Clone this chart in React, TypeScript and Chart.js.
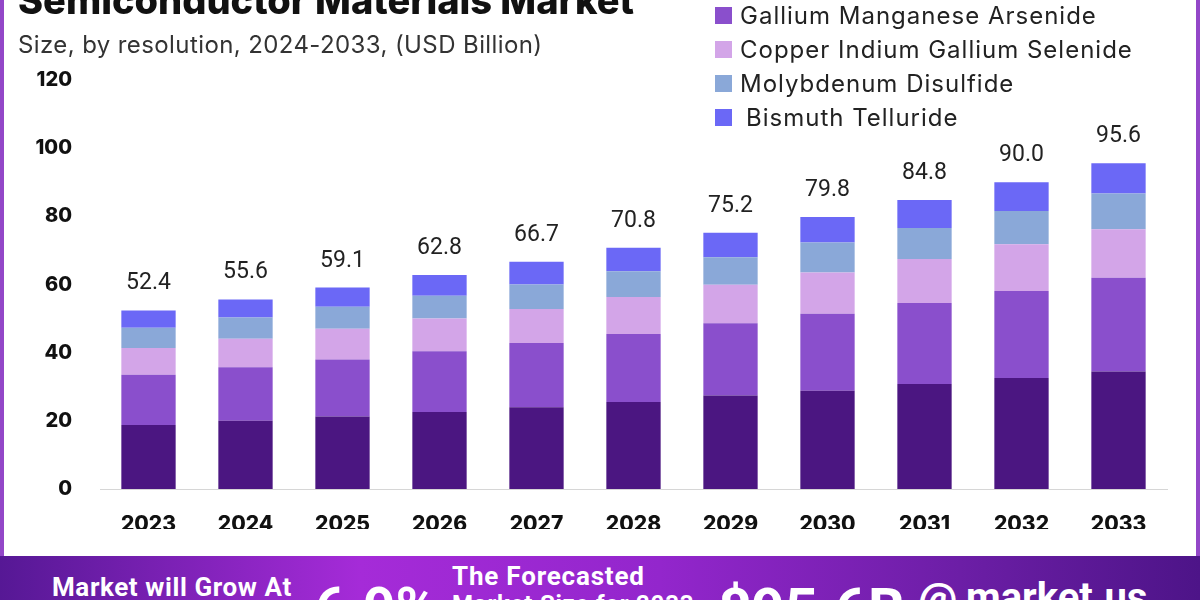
import React, { useEffect, useRef } from "react";
import Chart from "chart.js/auto";

const years = ["2023", "2024", "2025", "2026", "2027", "2028", "2029", "2030", "2031", "2032", "2033"];
const seriesNames = [
  "Gallium Nitride",
  "Gallium Manganese Arsenide",
  "Copper Indium Gallium Selenide",
  "Molybdenum Disulfide",
  "Bismuth Telluride",
];
const seriesColors = ["#4b1681", "#8a4fcc", "#d3a5e8", "#8aa8d8", "#6b68f6"];
const galliumNitride = [18.8, 20.0, 21.3, 22.6, 24.0, 25.5, 27.4, 28.8, 30.8, 32.6, 34.5];
const galliumManganeseArsenide = [14.7, 15.7, 16.7, 17.8, 18.8, 20.0, 21.2, 22.6, 23.8, 25.5, 27.5];
const copperIndiumGalliumSelenide = [7.9, 8.4, 9.0, 9.6, 10.0, 10.8, 11.3, 12.1, 12.9, 13.7, 14.2];
const molybdenumDisulfide = [5.9, 6.2, 6.5, 6.7, 7.2, 7.6, 8.1, 8.8, 9.1, 9.8, 10.5];
const bismuthTelluride = [5.1, 5.3, 5.6, 6.1, 6.7, 6.9, 7.2, 7.5, 8.2, 8.4, 8.9];
const totals = [52.4, 55.6, 59.1, 62.8, 66.7, 70.8, 75.2, 79.8, 84.8, 90.0, 95.6];
const yMin = 0;
const yMax = 120;
const yStep = 20;

const seriesValues = [
  galliumNitride,
  galliumManganeseArsenide,
  copperIndiumGalliumSelenide,
  molybdenumDisulfide,
  bismuthTelluride,
];

const totalsPlugin = {
  id: "totalsPlugin",
  afterDatasetsDraw(chart: any) {
    const ctx = chart.ctx;
    const meta = chart.getDatasetMeta(chart.data.datasets.length - 1);
    ctx.save();
    ctx.font = "23px Roboto";
    ctx.fillStyle = "#222";
    ctx.textAlign = "center";
    ctx.textBaseline = "alphabetic";
    meta.data.forEach((bar: any, i: number) => {
      ctx.fillText(totals[i].toFixed(1), bar.x, bar.y - 21);
    });
    ctx.restore();
  },
};

export default function App() {
  const ref = useRef<HTMLCanvasElement | null>(null);

  useEffect(() => {
    if (!ref.current) return;
    const chart = new Chart(ref.current, {
      type: "bar",
      data: {
        labels: years,
        datasets: seriesValues.map((vals, i) => ({
          label: seriesNames[i],
          data: vals,
          backgroundColor: seriesColors[i],
          borderWidth: 0,
          barPercentage: 0.56,
          categoryPercentage: 1.0,
        })),
      },
      options: {
        responsive: false,
        animation: false,
        layout: { padding: { left: 0, right: 33, top: 80, bottom: 71 } },
        plugins: {
          legend: { display: false },
          tooltip: { enabled: false },
        },
        scales: {
          x: {
            stacked: true,
            grid: { display: false, drawTicks: false },
            border: { display: true, color: "#d6d6d6", width: 1 },
            ticks: {
              color: "#111",
              font: { family: "Inter", weight: 800, size: 21 },
              padding: 23,
            },
            afterFit(scale: any) {
              scale.height = 40;
            },
          },
          y: {
            stacked: true,
            min: yMin,
            max: yMax,
            grid: { display: false, drawTicks: false },
            border: { display: false },
            ticks: {
              stepSize: yStep,
              color: "#111",
              font: { family: "Inter", weight: 800, size: 20 },
              padding: 28,
            },
            afterFit(scale: any) {
              scale.width = 100;
            },
          },
        },
      },
      plugins: [totalsPlugin],
    });
    return () => chart.destroy();
  }, []);

  const legendItems = seriesNames.slice(1).map((name, i) => ({ name, color: seriesColors[i + 1] }));

  return (
    <div
      style={{
        position: "fixed",
        left: 0,
        top: 0,
        width: 1200,
        height: 600,
        overflow: "hidden",
        background: "#fff",
        fontFamily: "Inter, sans-serif",
      }}
    >
      <div
        style={{
          position: "absolute",
          left: 0,
          top: -10,
          width: 1200,
          height: 566,
          boxSizing: "border-box",
          borderLeft: "4px solid #9347c8",
          borderRight: "4px solid #9347c8",
        }}
      />
      <canvas ref={ref} width={1200} height={600} style={{ position: "absolute", left: 0, top: 0, display: "block" }} />
      <div
        style={{
          position: "absolute",
          left: 18,
          top: -19,
          fontSize: 38,
          lineHeight: "38px",
          fontWeight: 800,
          color: "#111",
          whiteSpace: "nowrap",
        }}
      >
        Semiconductor Materials Market
      </div>
      <div
        style={{
          position: "absolute",
          left: 18,
          top: 30,
          fontSize: 24,
          lineHeight: "30px",
          letterSpacing: 0.4,
          color: "#333",
          whiteSpace: "nowrap",
        }}
      >
        Size, by resolution, 2024-2033, (USD Billion)
      </div>
      {legendItems.map((it, i) => (
        <div
          key={it.name}
          style={{
            position: "absolute",
            left: 715,
            top: 15 + i * 34.3 - 15,
            height: 30,
            display: "flex",
            alignItems: "center",
            whiteSpace: "nowrap",
          }}
        >
          <span style={{ display: "inline-block", width: 17, height: 17, background: it.color, marginRight: i === 3 ? 14 : 8 }} />
          <span style={{ fontSize: 24, letterSpacing: 1, color: "#222" }}>{it.name}</span>
        </div>
      ))}
      <div
        style={{
          position: "absolute",
          left: 0,
          top: 556,
          width: 1200,
          height: 44,
          background: "linear-gradient(90deg, #561895 0%, #a52bd8 30%, #9326cc 55%, #6c1ea6 80%, #4d1488 100%)",
          color: "#fff",
          fontFamily: "Roboto, sans-serif",
          fontWeight: 700,
        }}
      >
        <div style={{ position: "absolute", left: 52, top: 18, fontSize: 26, lineHeight: "26px", whiteSpace: "nowrap", letterSpacing: 0.6 }}>
          Market will Grow At
        </div>
        <div style={{ position: "absolute", left: 315, top: 24, fontSize: 56, lineHeight: "56px", whiteSpace: "nowrap" }}>6.9%</div>
        <div style={{ position: "absolute", left: 452, top: 7, fontSize: 26, lineHeight: "26px", whiteSpace: "nowrap", letterSpacing: 0.8 }}>
          The Forecasted
        </div>
        <div style={{ position: "absolute", left: 452, top: 35, fontSize: 24, lineHeight: "26px", whiteSpace: "nowrap", letterSpacing: 0.8 }}>
          Market Size for 2033
        </div>
        <div style={{ position: "absolute", left: 718, top: 24, fontSize: 58, lineHeight: "58px", whiteSpace: "nowrap" }}>$95.6B</div>
        <div style={{ position: "absolute", left: 918, top: 22, fontSize: 44, lineHeight: "44px", whiteSpace: "nowrap" }}>@</div>
        <div style={{ position: "absolute", left: 966, top: 20, fontSize: 40, lineHeight: "44px", whiteSpace: "nowrap" }}>market.us</div>
      </div>
    </div>
  );
}
